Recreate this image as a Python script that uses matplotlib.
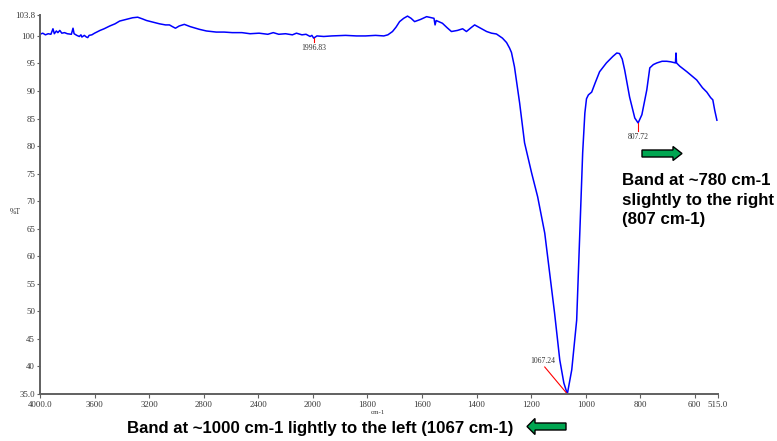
import numpy as np
import matplotlib
matplotlib.use("Agg")
import matplotlib.pyplot as plt
from matplotlib.patches import Polygon
from matplotlib.ticker import FixedLocator, FixedFormatter, NullLocator

# FTIR spectrum, %T vs wavenumber (cm-1)
wavenumber = [
    4000, 3980, 3960, 3940, 3920, 3905, 3895, 3880, 3869, 3855, 3840, 3820,
    3800, 3770, 3758, 3750, 3730, 3712, 3700, 3693, 3675, 3660, 3650, 3640,
    3620, 3600, 3584, 3560, 3530, 3489, 3450, 3416, 3370, 3321, 3284, 3250,
    3219, 3170, 3124, 3080, 3051, 3030, 3007, 2980, 2942, 2900, 2860, 2832,
    2780, 2708, 2650, 2591, 2520, 2460, 2394, 2330, 2290, 2250, 2200, 2150,
    2120, 2080, 2050, 2020, 2007, 1996.83, 1985, 1960, 1931, 1880, 1840, 1807,
    1770, 1740, 1725, 1708, 1695, 1682, 1667, 1653, 1640, 1627, 1605, 1583,
    1565, 1556, 1552, 1548, 1525, 1508, 1492, 1470, 1451, 1437, 1420, 1407,
    1385, 1363, 1345, 1327, 1305, 1290, 1279, 1272, 1261, 1242, 1224, 1198,
    1176, 1150, 1132, 1114, 1095, 1080, 1067.24, 1051, 1033, 1022, 1011, 1003,
    997, 990, 978, 965, 949, 924, 900, 886, 876, 866, 857, 839, 820, 807.72,
    794, 785, 776, 765, 752, 739, 720, 703, 688, 671, 669, 667, 655, 629, 612,
    593, 572, 556, 542, 534, 527, 519,
]
transmittance = [
    100.3, 100.5, 100.2, 100.4, 100.3, 101.3, 100.4, 100.9, 100.6, 101.0, 100.5, 100.6,
    100.4, 100.3, 101.4, 100.4, 100.1, 99.9, 100.2, 99.8, 100.1, 99.8, 99.7, 100.1,
    100.2, 100.5, 100.7, 101.0, 101.3, 101.8, 102.2, 102.7, 103.0, 103.3, 103.4, 103.1,
    102.8, 102.5, 102.2, 102.0, 102.0, 101.7, 101.4, 101.8, 102.1, 101.7, 101.4, 101.2,
    100.9, 100.7, 100.7, 100.6, 100.6, 100.4, 100.5, 100.3, 100.6, 100.3, 100.4, 100.2,
    100.5, 100.2, 100.3, 99.9, 100.1, 99.6, 100.0, 99.9, 100.0, 100.1, 100.0, 100.0,
    100.1, 100.0, 100.2, 100.8, 101.6, 102.6, 103.2, 103.6, 103.2, 102.6, 103.0, 103.5,
    103.3, 103.2, 102.0, 102.8, 102.3, 101.5, 100.8, 101.0, 101.3, 100.8, 101.5, 102.0,
    101.4, 100.8, 100.5, 100.35, 99.6, 98.8, 97.8, 97.0, 94.4, 87.8, 80.6, 75.1,
    70.8, 64.2, 57.0, 49.7, 41.2, 37.0, 35.0, 39.4, 48.4, 63.5, 78.8, 86.0,
    88.6, 89.3, 89.8, 91.5, 93.5, 95.1, 96.3, 96.9, 96.8, 95.8, 93.8, 88.9, 85.1, 84.2,
    85.7, 88.0, 90.2, 94.2, 94.8, 95.1, 95.4, 95.4, 95.3, 95.1, 96.9, 95.1, 94.5, 93.5, 92.8,
    92.0, 90.6, 89.8, 88.8, 88.4, 86.5, 84.7,
]

x_ticks = [4000, 3600, 3200, 2800, 2400, 2000, 1800, 1600, 1400, 1200, 1000, 800, 600, 515]
x_labels = ["4000.0", "3600", "3200", "2800", "2400", "2000", "1800", "1600",
            "1400", "1200", "1000", "800", "600", "515.0"]
y_ticks = [103.8, 100, 95, 90, 85, 80, 75, 70, 65, 60, 55, 50, 45, 40, 35]
y_labels = ["103.8", "100", "95", "90", "85", "80", "75", "70", "65", "60",
            "55", "50", "45", "40", "35.0"]

peaks = [1996.83, 1067.24, 807.72]


# scale is doubled below 2000 cm-1
def fwd(w):
    w = np.asarray(w, dtype=float)
    return np.where(w >= 2000, w, 2 * w - 2000)


def inv(p):
    p = np.asarray(p, dtype=float)
    return np.where(p >= 2000, p, (p + 2000) / 2)


serif = "Liberation Serif"
W, H = 777, 441
fig = plt.figure(figsize=(W / 100, H / 100), dpi=100)
ax = fig.add_axes([40 / W, 47 / H, 678 / W, 379 / H])

ax.plot(wavenumber, transmittance, color="#0000ff", lw=1.1)
ax.set_xscale("function", functions=(fwd, inv))
ax.set_xlim(4000, 515)
ax.set_ylim(35, 103.8)

ax.xaxis.set_major_locator(FixedLocator(x_ticks))
ax.xaxis.set_major_formatter(FixedFormatter(x_labels))
ax.xaxis.set_minor_locator(NullLocator())
ax.yaxis.set_major_locator(FixedLocator(y_ticks))
ax.yaxis.set_major_formatter(FixedFormatter(y_labels))

for s in ["top", "right"]:
    ax.spines[s].set_visible(False)
for s in ["left", "bottom"]:
    ax.spines[s].set_color("#606060")
    ax.spines[s].set_linewidth(1.4)
ax.tick_params(axis="x", length=3, width=0.8, color="#606060", pad=2,
               labelsize=6.3, labelcolor="#333333")
ax.tick_params(axis="y", length=2, width=0.8, color="#606060", pad=1.5,
               labelsize=6.3, labelcolor="#333333")
for lab in ax.get_xticklabels() + ax.get_yticklabels():
    lab.set_fontfamily(serif)

fig.text(15 / W, 1 - 212 / H, "%T", fontsize=5.5, family=serif, color="#333333",
         ha="center", va="center")
fig.text(378 / W, 1 - 413 / H, "cm-1", fontsize=5, family=serif, color="#333333",
         ha="center", va="center")

# peak labels
ax.plot([peaks[0], peaks[0]], [99.6, 98.9], color="red", lw=0.8)
ax.text(peaks[0], 98.6, "1996.83", fontsize=5.5, family=serif, color="#333333",
        ha="center", va="top")
ax.plot([1150, peaks[1]], [39.9, 35.0], color="red", lw=0.8)
ax.text(1158, 40.2, "1067.24", fontsize=5.5, family=serif, color="#333333",
        ha="center", va="bottom")
ax.plot([peaks[2], peaks[2]], [84.2, 82.7], color="red", lw=0.8)
ax.text(peaks[2], 82.3, "807.72", fontsize=5.5, family=serif, color="#333333",
        ha="center", va="top")


def arrow(x0, x1, xh, yc, shaft, head):
    # horizontal block arrow in figure pixels (y from top), tip at x1
    yc = H - yc
    pts = [(x0, yc - shaft / 2), (xh, yc - shaft / 2), (xh, yc - head / 2),
           (x1, yc), (xh, yc + head / 2), (xh, yc + shaft / 2), (x0, yc + shaft / 2)]
    pts = [(px / 100, py / 100) for px, py in pts]
    fig.patches.append(Polygon(pts, closed=True, facecolor="#00a651", edgecolor="black",
                               lw=1.0, transform=fig.dpi_scale_trans))


arrow(642, 682, 673, 153.5, 7, 14)
arrow(566, 527, 535, 426.5, 7, 16)

fig.text(622 / W, 1 - 173 / H, "Band at ~780 cm-1\nslightly to the right\n(807 cm-1)",
         fontsize=12.2, fontweight="bold", family="Liberation Sans", ha="left", va="top",
         linespacing=1.38)
fig.text(127 / W, 1 - 428 / H, "Band at ~1000 cm-1 lightly to the left (1067 cm-1)",
         fontsize=12.1, fontweight="bold", family="Liberation Sans", ha="left", va="center")

fig.savefig("out.png", dpi=100)
